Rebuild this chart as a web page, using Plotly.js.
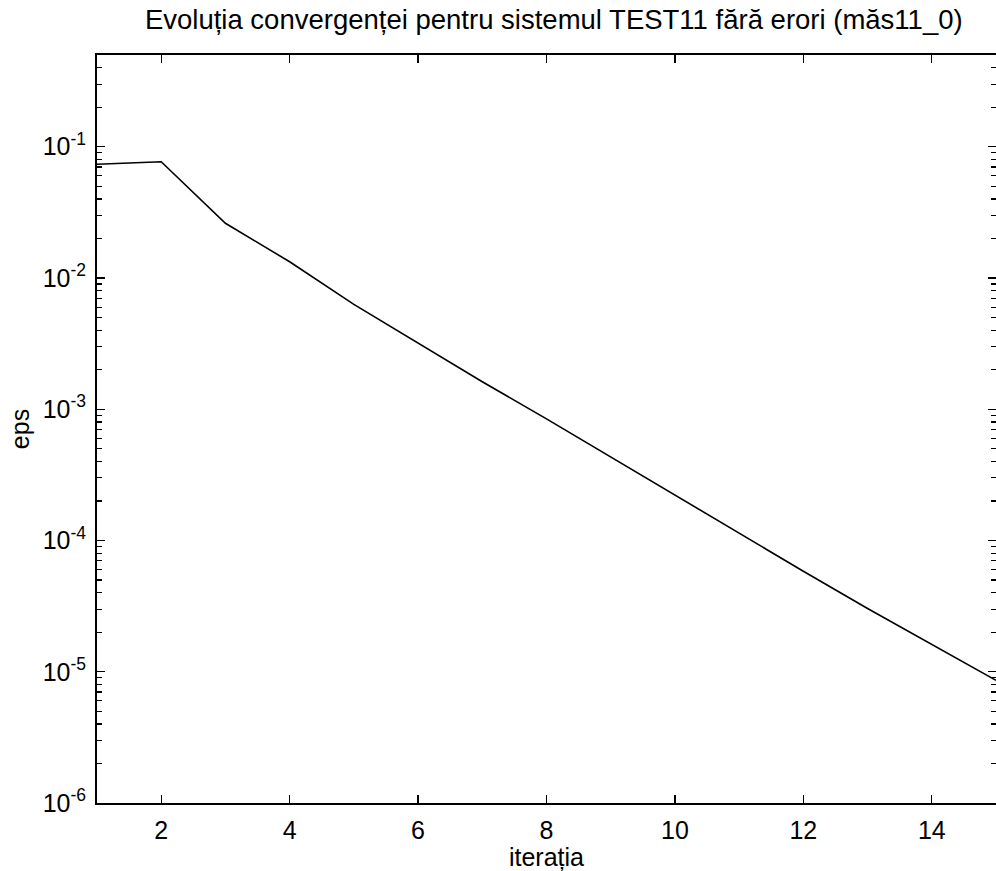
<!DOCTYPE html>
<html>
<head>
<meta charset="utf-8">
<script src="https://cdn.plot.ly/plotly-3.0.1.min.js"></script>
<style>html,body{margin:0;padding:0;background:#fff;}</style>
</head>
<body>
<div id="chart" style="width:996px;height:871px;"></div>
<script>
const iterations = [1, 2, 3, 4, 5, 6, 7, 8, 9, 10, 11, 12, 13, 14, 15];
const epsValues = [0.0735, 0.0768, 0.0261, 0.0133, 0.0063, 0.00319, 0.00162, 0.000845, 0.000434, 0.000221, 0.000113, 5.83e-5, 3.03e-5, 1.62e-5, 8.6e-6];
const xTickVals = [2, 4, 6, 8, 10, 12, 14];
const yTickVals = [1e-6, 1e-5, 1e-4, 1e-3, 1e-2, 1e-1];
const yTickText = ['10<sup>-6</sup>', '10<sup>-5</sup>', '10<sup>-4</sup>', '10<sup>-3</sup>', '10<sup>-2</sup>', '10<sup>-1</sup>'];
const titleText = 'Evoluția convergenței pentru sistemul TEST11 fără erori (măs11_0)';
const xTitle = 'iterația';
const yTitle = 'eps';

const minorVals = [];
for (let e = -6; e <= 0; e++) {
  for (let d = 2; d <= 9; d++) minorVals.push(d * Math.pow(10, e));
}

const font = 'Liberation Sans, Arial, sans-serif';

Plotly.newPlot('chart', [{
  x: iterations,
  y: epsValues,
  type: 'scatter',
  mode: 'lines',
  line: {color: '#000', width: 1.6},
  hoverinfo: 'skip'
}], {
  width: 996,
  height: 871,
  margin: {l: 97, r: 0, t: 55, b: 68},
  paper_bgcolor: '#fff',
  plot_bgcolor: '#fff',
  showlegend: false,
  font: {family: font, color: '#000', size: 25},
  title: {
    text: titleText,
    font: {family: font, size: 27.5, color: '#000'},
    x: 0.556, xanchor: 'center',
    y: 0.978, yanchor: 'middle', yref: 'container'
  },
  xaxis: {
    range: [1, 15],
    tickvals: xTickVals,
    ticks: 'inside',
    ticklen: 8,
    tickwidth: 1.2,
    tickcolor: '#000',
    showline: true,
    linecolor: '#000',
    linewidth: 2,
    mirror: 'ticks',
    showgrid: false,
    zeroline: false,
    ticklabelstandoff: 4,
    tickfont: {size: 25, family: font},
    title: {text: xTitle, font: {size: 25, family: font}, standoff: 2}
  },
  yaxis: {
    type: 'log',
    range: [-6, Math.log10(0.5)],
    tickvals: yTickVals,
    ticktext: yTickText,
    ticks: 'inside',
    ticklen: 8,
    tickwidth: 1.2,
    tickcolor: '#000',
    minor: {tickvals: minorVals, ticks: 'inside', ticklen: 5, tickwidth: 1.2, tickcolor: '#000', showgrid: false},
    showline: true,
    linecolor: '#000',
    linewidth: 2,
    mirror: 'ticks',
    showgrid: false,
    zeroline: false,
    ticklabelstandoff: 4,
    tickfont: {size: 25, family: font},
    title: {text: yTitle, font: {size: 25, family: font}, standoff: 6}
  }
}, {staticPlot: true});
</script>
</body>
</html>
